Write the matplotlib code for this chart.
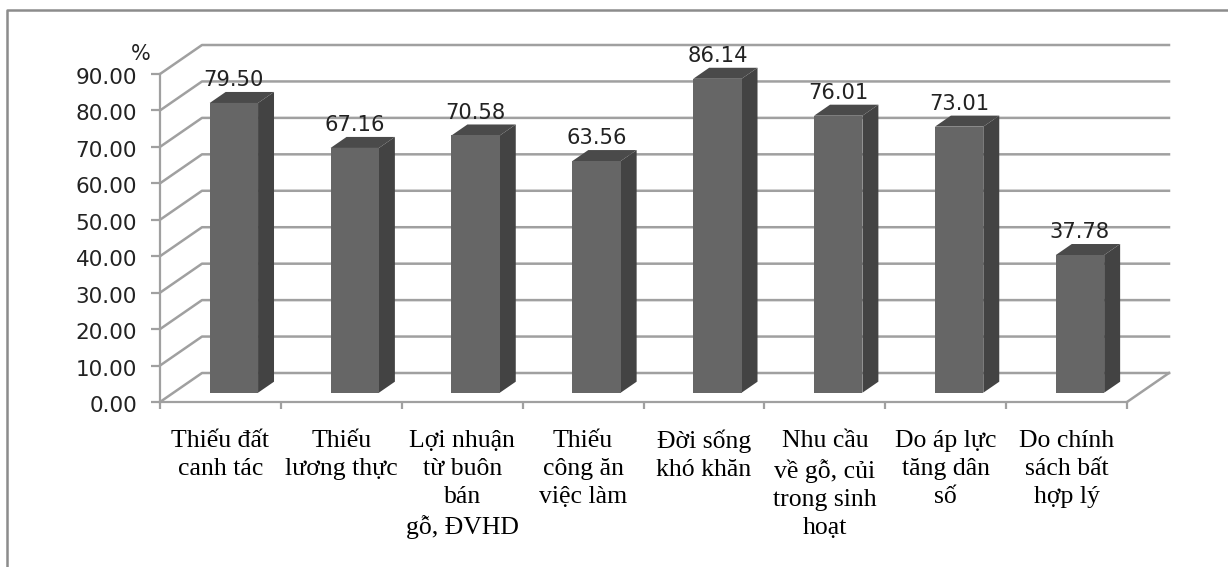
import matplotlib
matplotlib.use("Agg")
import matplotlib.pyplot as plt
from matplotlib.lines import Line2D
from matplotlib.patches import Polygon
from matplotlib.transforms import ScaledTranslation

categories = ["Thiếu đất\ncanh tác", "Thiếu\nlương thực", "Lợi nhuận\ntừ buôn\nbán\ngỗ, ĐVHD",
              "Thiếu\ncông ăn\nviệc làm", "Đời sống\nkhó khăn", "Nhu cầu\nvề gỗ, củi\ntrong sinh\nhoạt",
              "Do áp lực\ntăng dân\nsố", "Do chính\nsách bất\nhợp lý"]
values = [79.50, 67.16, 70.58, 63.56, 86.14, 76.01, 73.01, 37.78]
y_ticks = [0, 10, 20, 30, 40, 50, 60, 70, 80, 90]

W, H = 1228, 567
X0, X1, Y0, Y1 = 160, 1127, 402, 74       # front plane of the axes, pixels
DX = 42 / ((X1 - X0) / 8)                 # full depth in data units
DY = 29 / ((Y0 - Y1) / 90)
BAR_W = 0.4
D_FRONT, D_BACK = 0.32, 0.70

GRID = "#a0a0a0"
FRONT = "#666666"
SIDE = "#434343"
TOP = "#4a4a4a"


def pt(x, y, d=0):
    # oblique projection: push a point back by depth d (0..1)
    return (x + DX * d, y + DY * d)


fig = plt.figure(figsize=(W / 100, H / 100), dpi=100)
# only the top and left edges of the outer frame are inside the picture
fig.add_artist(Line2D([7 / W, 7 / W, 1], [0, 1 - 10 / H, 1 - 10 / H], transform=fig.transFigure,
                      color="#8c8c8c", lw=1.8))
ax = fig.add_axes([X0 / W, 1 - Y0 / H, (X1 - X0) / W, (Y0 - Y1) / H])
ax.set_xlim(0, 8)
ax.set_ylim(0, 90)
ax.patch.set_visible(False)
for s in ["top", "right"]:
    ax.spines[s].set_visible(False)
for s in ["left", "bottom"]:
    ax.spines[s].set_color(GRID)
    ax.spines[s].set_linewidth(1.6)

ax.set_yticks(y_ticks)
ax.set_yticklabels(["%.2f" % v for v in y_ticks], fontsize=15.5, color="#222222", va="center")
ax.set_xticks(range(9))
ax.set_xticklabels([])
ax.tick_params(axis="y", color=GRID, width=1.6, length=6.5, pad=10)
ax.tick_params(axis="x", color=GRID, width=1.6, length=5)
# labels sit a little under their ticks
for label in ax.get_yticklabels():
    label.set_transform(label.get_transform() + ScaledTranslation(0, -4 / 100, fig.dpi_scale_trans))

# back wall grid and the slanted lines on the side wall
for v in y_ticks:
    x, y = zip(pt(0, v), pt(0, v, 1), pt(8, v, 1))
    ax.plot(x, y, color=GRID, lw=1.8, clip_on=False, zorder=1)
x, y = zip(pt(8, 0), pt(8, 0, 1))
ax.plot(x, y, color=GRID, lw=1.8, clip_on=False, zorder=1)

for i, v in enumerate(values):
    l, r = i + 0.5 - BAR_W / 2, i + 0.5 + BAR_W / 2
    ax.add_patch(Polygon([pt(r, 0, D_FRONT), pt(r, 0, D_BACK), pt(r, v, D_BACK), pt(r, v, D_FRONT)],
                         fc=SIDE, ec="none", clip_on=False, zorder=3))
    ax.add_patch(Polygon([pt(l, v, D_FRONT), pt(l, v, D_BACK), pt(r, v, D_BACK), pt(r, v, D_FRONT)],
                         fc=TOP, ec="none", clip_on=False, zorder=3))
    ax.add_patch(Polygon([pt(l, 0, D_FRONT), pt(r, 0, D_FRONT), pt(r, v, D_FRONT), pt(l, v, D_FRONT)],
                         fc=FRONT, ec="none", clip_on=False, zorder=4))
    tx, ty = pt(i + 0.5, v, D_BACK)
    ax.text(tx - DX * (D_BACK - D_FRONT), ty + 0.5, "%.2f" % v, ha="center", va="bottom", fontsize=15.2,
            color="#222222", zorder=5)
    ax.text(i + 0.5, -7.6, categories[i], ha="center", va="top", fontsize=18.5,
            family="Liberation Serif", color="black", linespacing=1.36, clip_on=False)

ax.text(-0.157, 95.5, "%", ha="center", va="center", fontsize=15, color="#222222", clip_on=False)

fig.savefig("out.png", dpi=100)
